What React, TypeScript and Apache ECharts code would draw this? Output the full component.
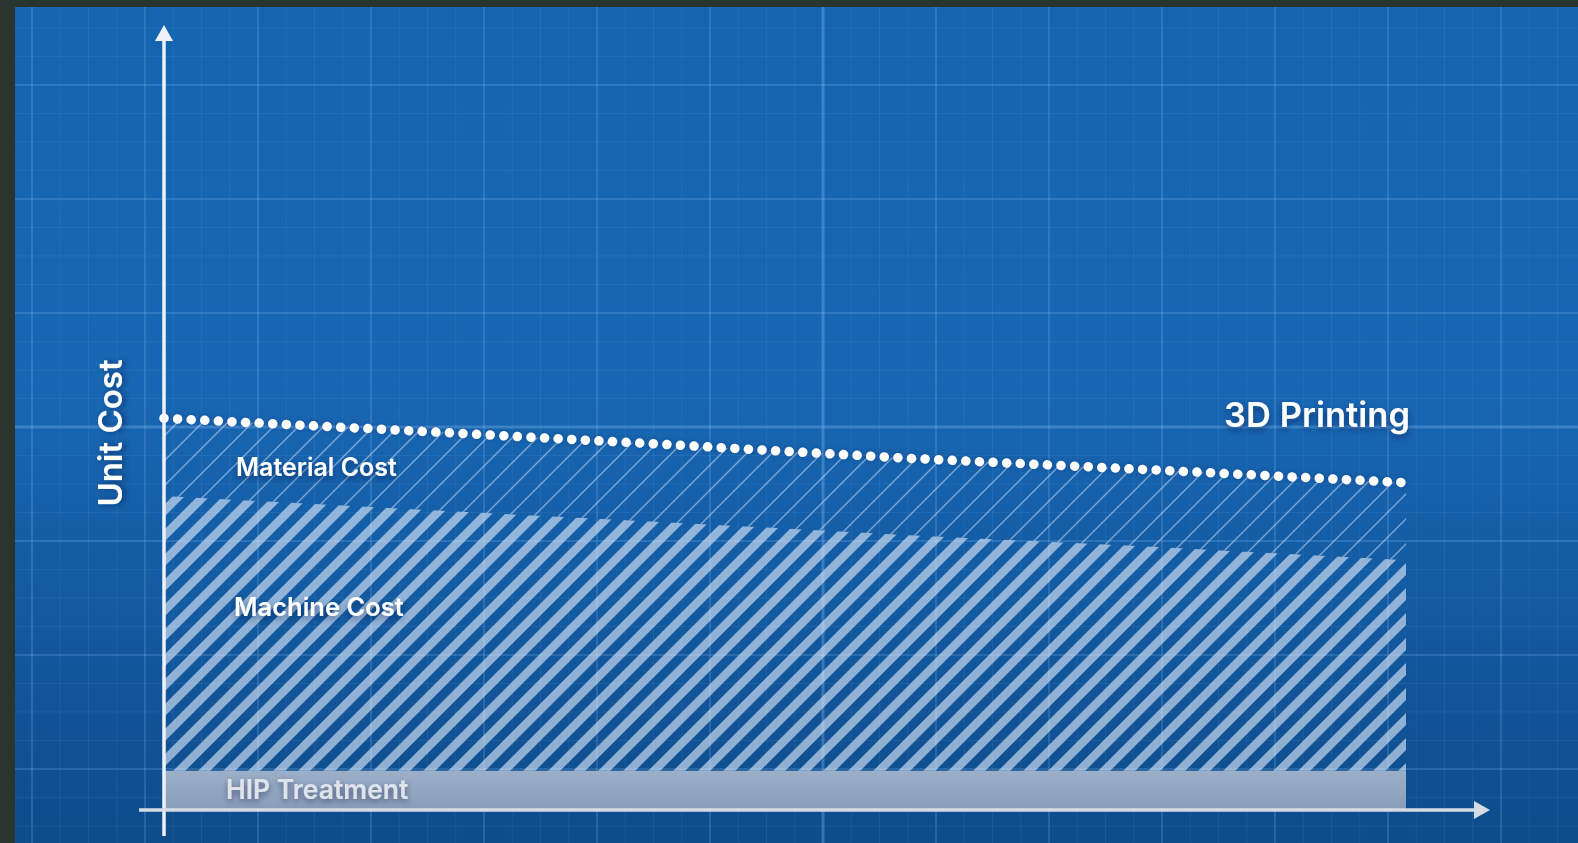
import React, { useEffect, useRef } from "react";
import * as echarts from "echarts";

// Production volume (x) and the stacked unit-cost components (y)
const volume = ["0", "2", "4", "6", "8", "10"];
const hipTreatment = [5, 5, 5, 5, 5, 5];
const machineCost = [35.0, 33.3, 31.7, 30.0, 28.5, 26.8];
const materialCost = [9.9, 10.0, 9.9, 9.8, 9.8, 9.9];

const seriesNames = ["HIP Treatment", "Machine Cost", "Material Cost"];
const lineName = "3D Printing";
const axisTitle = "Unit Cost";

const W = 1578;
const H = 843;
const GRID = { left: 164, right: 172, top: 25, bottom: 33 };
const Y_MAX = 100;
const FONT = "Inter, 'Open Sans', sans-serif";

// Diagonal hatch tile used as an area fill pattern
function stripeTile(period: number, lineWidth: number, color: string) {
  const c = document.createElement("canvas");
  c.width = period;
  c.height = period;
  const ctx = c.getContext("2d")!;
  ctx.strokeStyle = color;
  ctx.lineWidth = lineWidth;
  for (const k of [-period, 0, period]) {
    ctx.beginPath();
    ctx.moveTo(k - 3, period + 3);
    ctx.lineTo(k + period + 3, -3);
    ctx.stroke();
  }
  return { image: c, repeat: "repeat", imageWidth: period, imageHeight: period };
}

function blueprintGrid() {
  const els: any[] = [];
  const x0 = 15;
  const y0 = 7;
  els.push({
    type: "rect",
    z: -100,
    shape: { x: x0, y: y0, width: W - x0, height: H - y0 },
    style: {
      fill: new echarts.graphic.LinearGradient(0, 0, 0, 1, [
        { offset: 0, color: "#1564b0" },
        { offset: 0.45, color: "#1867b4" },
        { offset: 1, color: "#0e4c8b" },
      ]),
    },
  });
  for (let k = 0; ; k++) {
    const x = 32 + 28.25 * k;
    if (x > W) break;
    const center = k === 28;
    const major = k % 4 === 0;
    els.push({
      type: "line",
      z: -90,
      shape: { x1: x, y1: y0, x2: x, y2: H },
      style: {
        stroke: center ? "rgba(140,195,250,0.32)" : major ? "rgba(140,195,250,0.2)" : "rgba(140,195,250,0.09)",
        lineWidth: center ? 3 : major ? 2 : 1,
      },
    });
  }
  for (let k = -2; ; k++) {
    const y = 85 + 28.5 * k;
    if (y > H) break;
    const center = k === 12;
    const major = k % 4 === 0;
    els.push({
      type: "line",
      z: -90,
      shape: { x1: x0, y1: y, x2: W, y2: y },
      style: {
        stroke: center ? "rgba(140,195,250,0.32)" : major ? "rgba(140,195,250,0.2)" : "rgba(140,195,250,0.09)",
        lineWidth: center ? 3 : major ? 2 : 1,
      },
    });
  }
  return els;
}

function label(text: string, x: number, y: number, size: number, color: string, align = "left", rotation = 0) {
  return {
    type: "text",
    z: 100,
    x,
    y,
    rotation,
    style: {
      text,
      fill: color,
      fontFamily: FONT,
      fontSize: size,
      fontWeight: 600,
      align,
      textAlign: align,
      verticalAlign: "middle",
      textVerticalAlign: "middle",
      textShadowColor: "rgba(0,20,50,0.45)",
      textShadowBlur: 6,
      textShadowOffsetY: 3,
    },
  };
}

function axesGraphics() {
  const originX = GRID.left;
  const originY = H - GRID.bottom;
  const yColor = "#eef2f7";
  const xColor = "#d6dce4";
  return [
    {
      type: "line",
      z: 90,
      shape: { x1: originX, y1: originY + 26, x2: originX, y2: 40 },
      style: { stroke: yColor, lineWidth: 3.5 },
    },
    {
      type: "polygon",
      z: 90,
      shape: { points: [[originX - 9, 41], [originX + 9, 41], [originX, 25]] },
      style: { fill: yColor },
    },
    {
      type: "line",
      z: 90,
      shape: { x1: originX - 25, y1: originY, x2: 1476, y2: originY },
      style: { stroke: xColor, lineWidth: 3.5 },
    },
    {
      type: "polygon",
      z: 90,
      shape: { points: [[1474, originY - 9], [1474, originY + 9], [1490, originY]] },
      style: { fill: xColor },
    },
  ];
}

export default function App() {
  const ref = useRef<HTMLDivElement>(null);

  useEffect(() => {
    if (!ref.current) return;
    const chart = echarts.init(ref.current, undefined, { renderer: "svg" });

    const thick = stripeTile(25, 8.5, "rgba(222,234,250,0.62)");
    const thin = stripeTile(25, 1.4, "rgba(225,238,255,0.5)");

    const option: any = {
      animation: false,
      backgroundColor: "#2b3530",
      grid: { ...GRID },
      xAxis: { type: "category", data: volume, boundaryGap: false, show: false },
      yAxis: { type: "value", min: 0, max: Y_MAX, show: false },
      series: [
        {
          name: seriesNames[0],
          type: "line",
          stack: "cost",
          data: hipTreatment,
          symbol: "none",
          lineStyle: { width: 0 },
          areaStyle: {
            opacity: 1,
            color: new echarts.graphic.LinearGradient(0, 0, 0, 1, [
              { offset: 0, color: "#9cafc8" },
              { offset: 1, color: "#899db8" },
            ]),
          },
          silent: true,
        },
        {
          name: seriesNames[1],
          type: "line",
          stack: "cost",
          data: machineCost,
          symbol: "none",
          lineStyle: { width: 0 },
          areaStyle: { opacity: 1, color: thick },
          silent: true,
        },
        {
          name: seriesNames[2],
          type: "line",
          stack: "cost",
          data: materialCost,
          symbol: "none",
          lineStyle: {
            color: "#ffffff",
            width: 9.5,
            type: [0.01, 13.6],
            cap: "round",
            shadowColor: "rgba(0,20,60,0.3)",
            shadowBlur: 4,
          },
          areaStyle: { opacity: 1, color: thin },
          silent: true,
        },
      ],
      graphic: {
        elements: [
          ...blueprintGrid(),
          ...axesGraphics(),
          label(axisTitle, 110, 433, 33, "#ffffff", "center", Math.PI / 2),
          label(seriesNames[2], 236, 467, 25, "#ffffff"),
          label(seriesNames[1], 234, 606, 25.5, "#ffffff"),
          label(seriesNames[0], 226, 789, 26.5, "#dfe4ec"),
          label(lineName, 1410, 414, 34.5, "#ffffff", "right"),
        ],
      },
    };

    chart.setOption(option);
    return () => chart.dispose();
  }, []);

  return (
    <div
      ref={ref}
      style={{ position: "absolute", left: 0, top: 0, width: W, height: H }}
    />
  );
}
